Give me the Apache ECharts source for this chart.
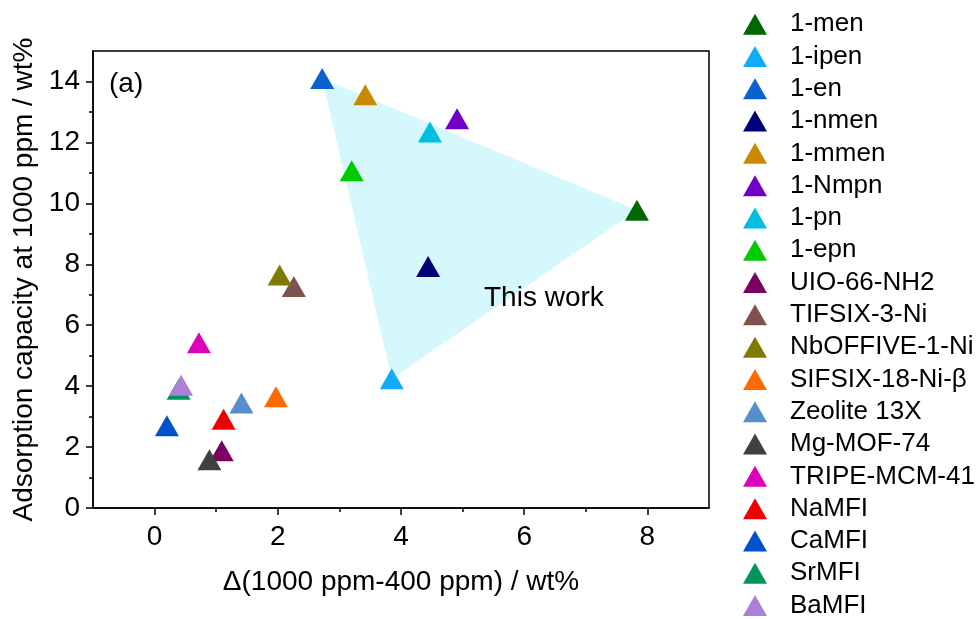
<!DOCTYPE html>
<html>
<head>
<meta charset="utf-8">
<script src="https://cdn.jsdelivr.net/npm/echarts@6/dist/echarts.min.js"></script>
<style>
html,body{margin:0;padding:0;background:#fff;}
#main{width:978px;height:619px;}
</style>
</head>
<body>
<div id="main"></div>
<script>
// ---- data ----
const names = ['1-men','1-ipen','1-en','1-nmen','1-mmen','1-Nmpn','1-pn','1-epn','UIO-66-NH2','TIFSIX-3-Ni','NbOFFIVE-1-Ni','SIFSIX-18-Ni-β','Zeolite 13X','Mg-MOF-74','TRIPE-MCM-41','NaMFI','CaMFI','SrMFI','BaMFI'];
const xVals = [7.83, 3.85, 2.72, 4.44, 3.42, 4.91, 4.47, 3.20, 1.09, 2.26, 2.03, 1.97, 1.41, 0.89, 0.72, 1.12, 0.20, 0.39, 0.43];
const yVals = [9.77, 4.24, 14.1, 7.93, 13.56, 12.78, 12.34, 11.07, 1.88, 7.27, 7.65, 3.65, 3.45, 1.58, 5.42, 2.91, 2.70, 3.90, 4.03];
const colors = ['#006800','#12AAFA','#0A62D0','#00007A','#CC8800','#7000C8','#00BEE2','#00CA00','#7C0062','#80524E','#807A00','#FF6A00','#5590CC','#404040','#DD00BB','#EE0000','#0052CC','#00955A','#AC80D4'];
const polygonMembers = ['1-en','1-men','1-ipen'];
const xTicks = [0,2,4,6,8];
const xMinorTicks = [1,3,5,7];
const yTicks = [0,2,4,6,8,10,12,14];
const yMinorTicks = [1,3,5,7,9,11,13];

const FONT = '"Liberation Sans", Arial, sans-serif';
const chart = echarts.init(document.getElementById('main'), null, {renderer:'canvas'});

const polyIdx = polygonMembers.map(n => names.indexOf(n));

const series = [{
  type: 'custom',
  name: '__area',
  xAxisIndex: 0, yAxisIndex: 0,
  z: 1,
  silent: true,
  data: [0],
  renderItem: function(params, api){
    const pts = polyIdx.map(i => api.coord([xVals[i], yVals[i]]));
    return {type:'polygon', shape:{points:pts}, style:{fill:'#D5F8FD', stroke:null}};
  }
}];
names.forEach((n,i) => {
  series.push({
    type: 'scatter',
    name: n,
    xAxisIndex: 0, yAxisIndex: 0,
    z: 3,
    symbol: 'triangle',
    symbolSize: [24, 21],
    itemStyle: {color: colors[i], opacity: 1},
    data: [[xVals[i], yVals[i]]]
  });
});

const axisLineStyle = {color:'#000', width:1.5};
const option = {
  backgroundColor: '#fff',
  animation: false,
  grid: {left:93, top:51, width:616, height:457, show:true, borderColor:'#000', borderWidth:1.5, backgroundColor:'transparent'},
  legend: {
    orient: 'vertical',
    left: 743, top: 8,
    height: 700,
    padding: 0,
    itemWidth: 24, itemHeight: 21,
    itemGap: 0,
    icon: 'triangle',
    data: names,
    textStyle: {fontFamily: FONT, fontSize: 26, color:'#000', lineHeight: 24.3, padding:[8,0,0,18]}
  },
  xAxis: [{
    type: 'value', min: -1, max: 9,
    name: 'Δ(1000 ppm-400 ppm) / wt%',
    nameLocation: 'middle', nameGap: 60,
    nameTextStyle: {fontFamily: FONT, fontSize: 28, color:'#000'},
    axisLine: {show:true, onZero:false, lineStyle: axisLineStyle},
    axisTick: {show:true, inside:false, length:7, lineStyle:{color:'#000', width:1.5}, customValues: xTicks},
    axisLabel: {show:true, margin:15, fontFamily: FONT, fontSize: 28, color:'#000', customValues: xTicks},
    splitLine: {show:false}
  },{
    type: 'value', min: -1, max: 9, position:'bottom', gridIndex:0,
    axisLine: {show:false, onZero:false},
    axisTick: {show:true, inside:false, length:4, lineStyle:{color:'#000', width:1.5}, customValues: xMinorTicks},
    axisLabel: {show:false},
    splitLine: {show:false}
  }],
  yAxis: [{
    type: 'value', min: 0, max: 15,
    name: 'Adsorption capacity at 1000 ppm / wt%',
    nameLocation: 'middle', nameGap: 46, nameRotate: 90,
    nameTextStyle: {fontFamily: FONT, fontSize: 28, color:'#000'},
    axisLine: {show:true, onZero:false, lineStyle: axisLineStyle},
    axisTick: {show:true, inside:false, length:7, lineStyle:{color:'#000', width:1.5}, customValues: yTicks},
    axisLabel: {show:true, margin:13, fontFamily: FONT, fontSize: 28, color:'#000', customValues: yTicks},
    splitLine: {show:false}
  },{
    type: 'value', min: 0, max: 15, position:'left', gridIndex:0,
    axisLine: {show:false, onZero:false},
    axisTick: {show:true, inside:false, length:4, lineStyle:{color:'#000', width:1.5}, customValues: yMinorTicks},
    axisLabel: {show:false},
    splitLine: {show:false}
  }],
  graphic: [
    {type:'text', left:109, top:70, z:10, style:{text:'(a)', font:'28px ' + FONT, fill:'#000'}},
    {type:'text', left:484, top:284, z:10, style:{text:'This work', font:'28px ' + FONT, fill:'#000'}}
  ],
  series: series
};
chart.setOption(option);
</script>
</body>
</html>
